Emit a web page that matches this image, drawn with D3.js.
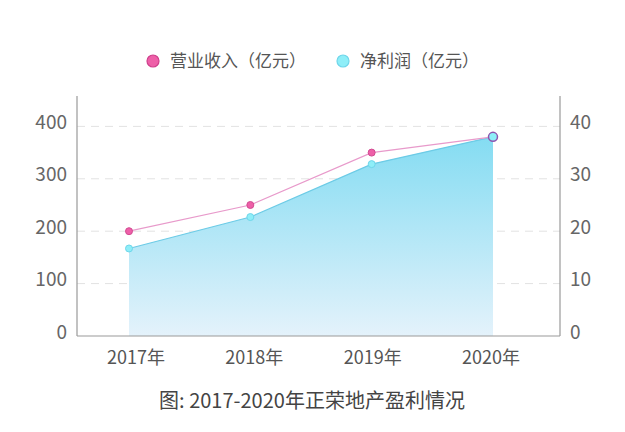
<!DOCTYPE html>
<html>
<head>
<meta charset="utf-8">
<script src="https://cdn.jsdelivr.net/npm/d3@7"></script>
<style>
  html, body { margin: 0; padding: 0; background: #fff; }
  svg text { font-family: "Noto Sans CJK SC", "Noto Sans", sans-serif; }
</style>
</head>
<body>
<div id="chart"></div>
<script>
// chart data
const years = ["2017年", "2018年", "2019年", "2020年"];
const revenue = [200, 250, 350, 380];      // 营业收入 (左轴)
const netProfit = [16.7, 22.7, 32.8, 38.0]; // 净利润 (右轴)
const leftTicks = [0, 100, 200, 300, 400];
const rightTicks = [0, 10, 20, 30, 40];
const seriesNames = ["营业收入（亿元）", "净利润（亿元）"];
const chartTitle = "图: 2017-2020年正荣地产盈利情况";

const width = 625, height = 432;
const margin = { left: 77, right: 65, top: 96, bottom: 96 };
const plotBottom = height - margin.bottom; // 336
const plotRight = width - margin.right;    // 560

const svg = d3.select("#chart").append("svg")
    .attr("width", width)
    .attr("height", height);

// scales
const xScale = d3.scalePoint().domain(years).range([129, 493]);
const xLabel = d3.scalePoint().domain(years).range([136, 491]);
const yLeft = d3.scaleLinear().domain([0, 458]).range([plotBottom, margin.top]);
const yRight = d3.scaleLinear().domain([0, 45.8]).range([plotBottom, margin.top]);

// gradient for area
const defs = svg.append("defs");
const grad = defs.append("linearGradient")
    .attr("id", "areaGrad")
    .attr("x1", 0).attr("y1", 0).attr("x2", 0).attr("y2", 1);
grad.append("stop").attr("offset", "0%").attr("stop-color", "#84dcf2");
grad.append("stop").attr("offset", "100%").attr("stop-color", "#e4f2fb");

// grid lines
svg.append("g")
    .selectAll("line")
    .data(leftTicks.filter(d => d > 0))
    .enter()
    .append("line")
    .attr("x1", margin.left)
    .attr("x2", plotRight)
    .attr("y1", d => yLeft(d))
    .attr("y2", d => yLeft(d))
    .style("stroke", "#e2e2e2")
    .style("stroke-width", 1)
    .style("stroke-dasharray", "8,6");

// area for net profit
const area = d3.area()
    .x((d, i) => xScale(years[i]))
    .y0(plotBottom)
    .y1(d => yRight(d));

svg.append("path")
    .datum(netProfit)
    .attr("d", area)
    .attr("fill", "url(#areaGrad)");

const profitLine = d3.line()
    .x((d, i) => xScale(years[i]))
    .y(d => yRight(d));

svg.append("path")
    .datum(netProfit)
    .attr("d", profitLine)
    .attr("fill", "none")
    .style("stroke", "#6ccbe6")
    .style("stroke-width", 1.2);

const revenueLine = d3.line()
    .x((d, i) => xScale(years[i]))
    .y(d => yLeft(d));

svg.append("path")
    .datum(revenue)
    .attr("d", revenueLine)
    .attr("fill", "none")
    .style("stroke", "#e89acb")
    .style("stroke-width", 1.2);

// markers
svg.append("g")
    .selectAll("circle")
    .data(revenue)
    .enter()
    .append("circle")
    .attr("cx", (d, i) => xScale(years[i]))
    .attr("cy", d => yLeft(d))
    .attr("r", 3.5)
    .style("fill", "#ee5fa8")
    .style("stroke", "#d24b92")
    .style("stroke-width", 1);

svg.append("g")
    .selectAll("circle")
    .data(netProfit)
    .enter()
    .append("circle")
    .attr("cx", (d, i) => xScale(years[i]))
    .attr("cy", d => yRight(d))
    .attr("r", (d, i) => i === netProfit.length - 1 ? 4.5 : 3.5)
    .style("fill", "#8eeef8")
    .style("stroke", (d, i) => i === netProfit.length - 1 ? "#8e55b0" : "#6fd6ea")
    .style("stroke-width", (d, i) => i === netProfit.length - 1 ? 1.5 : 1);

// axis lines
svg.append("line")
    .attr("x1", margin.left).attr("x2", margin.left)
    .attr("y1", margin.top).attr("y2", plotBottom)
    .style("stroke", "#999").style("stroke-width", 1.2);
svg.append("line")
    .attr("x1", plotRight).attr("x2", plotRight)
    .attr("y1", margin.top).attr("y2", plotBottom)
    .style("stroke", "#999").style("stroke-width", 1.2);
svg.append("line")
    .attr("x1", margin.left).attr("x2", plotRight)
    .attr("y1", plotBottom).attr("y2", plotBottom)
    .style("stroke", "#999").style("stroke-width", 1.2);

// tick labels
svg.append("g")
    .selectAll("text")
    .data(leftTicks)
    .enter()
    .append("text")
    .attr("x", 67)
    .attr("y", d => yLeft(d) - 4)
    .attr("dy", ".35em")
    .style("text-anchor", "end")
    .style("font-size", "19px")
    .style("fill", "#666")
    .text(d => d);

svg.append("g")
    .selectAll("text")
    .data(rightTicks)
    .enter()
    .append("text")
    .attr("x", 570)
    .attr("y", d => yRight(d) - 4)
    .attr("dy", ".35em")
    .style("text-anchor", "start")
    .style("font-size", "19px")
    .style("fill", "#666")
    .text(d => d);

svg.append("g")
    .selectAll("text")
    .data(years)
    .enter()
    .append("text")
    .attr("x", d => xLabel(d))
    .attr("y", 358)
    .attr("dy", ".35em")
    .style("text-anchor", "middle")
    .style("font-size", "18px")
    .style("fill", "#555")
    .text(d => d);

// legend
const legendX = [153, 343];
const legendFill = ["#ee5fa8", "#8eeef8"];
const legendStroke = ["#cf3f8c", "#6fd6ea"];
const legend = svg.append("g")
    .selectAll("g")
    .data(seriesNames)
    .enter()
    .append("g");

legend.append("circle")
    .attr("cx", (d, i) => legendX[i])
    .attr("cy", 61)
    .attr("r", 6)
    .style("fill", (d, i) => legendFill[i])
    .style("stroke", (d, i) => legendStroke[i])
    .style("stroke-width", 1.2);

legend.append("text")
    .attr("x", (d, i) => legendX[i] + 17)
    .attr("y", 61)
    .attr("dy", ".35em")
    .style("font-size", "17px")
    .style("fill", "#555")
    .text(d => d);

// title
svg.append("text")
    .attr("x", 312)
    .attr("y", 401)
    .attr("dy", ".35em")
    .style("text-anchor", "middle")
    .style("font-size", "20px")
    .style("fill", "#444")
    .text(chartTitle);
</script>
</body>
</html>
